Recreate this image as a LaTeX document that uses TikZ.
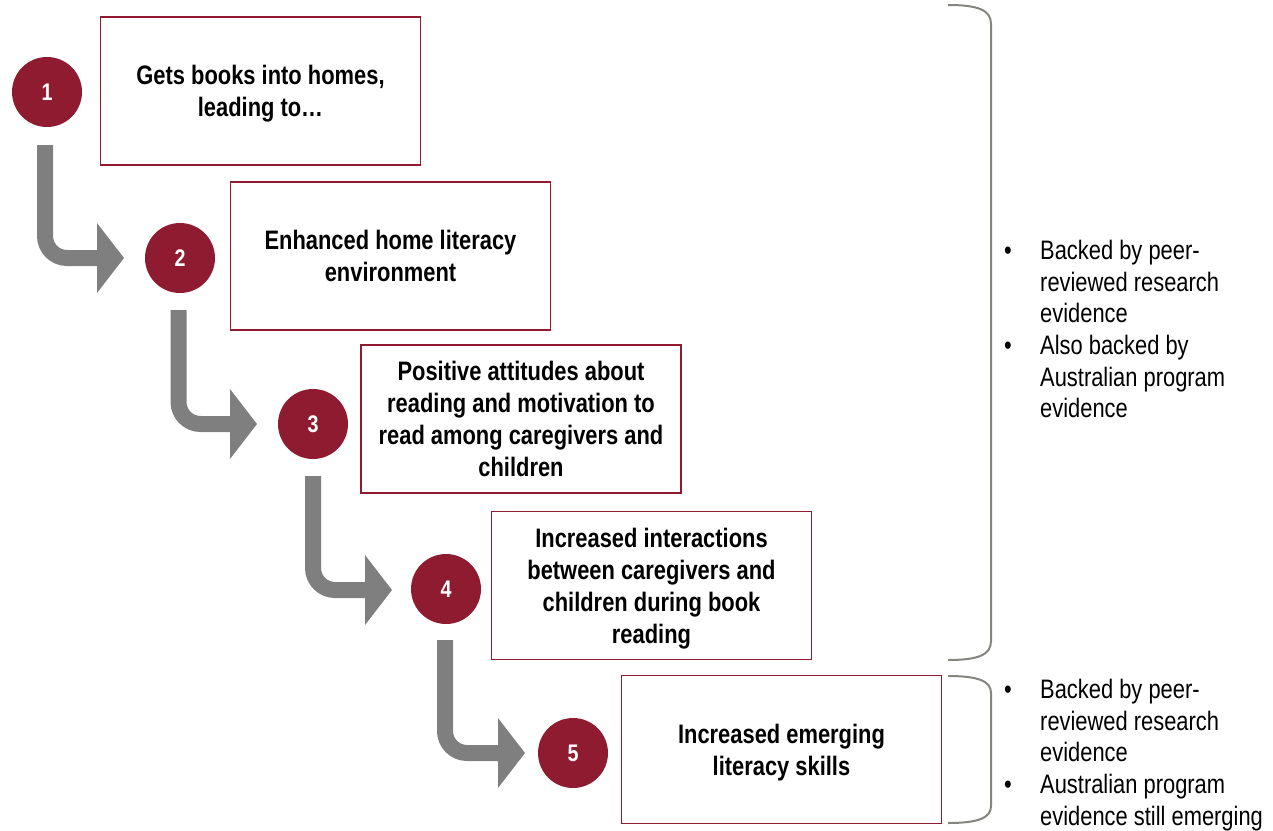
\documentclass[tikz,border=0pt]{standalone}
\usepackage{fontspec}
\setmainfont{Liberation Sans}[FakeStretch=0.82]
\usetikzlibrary{arrows.meta}
\definecolor{wine}{HTML}{8E1B30}
\definecolor{arrowgray}{HTML}{7F7F7F}
\definecolor{bracegray}{HTML}{85857F}
\tikzset{
  stepbox/.style={draw=wine, line width=1.5pt, fill=white, minimum width=320pt, minimum height=148pt,
    align=center, inner sep=0pt, text depth=0pt, font=\fontsize{26.7}{32}\selectfont\bfseries,
    execute at begin node=\rule{0pt}{23pt}},
  numcircle/.style={circle, fill=wine, minimum size=70pt, inner sep=0pt, text=white,
    font=\fontsize{24}{28}\selectfont\bfseries},
  blockarrow/.style={draw=arrowgray, line width=16pt, rounded corners=22pt,
    -{Triangle[length=27pt,width=70pt,line width=0pt]}},
  bracket/.style={draw=bracegray, line width=2pt},
  bullettext/.style={anchor=base west, align=left, inner sep=0pt, font=\fontsize{26.7}{31.5}\selectfont},
  bulletdot/.style={anchor=base west, inner sep=0pt, font=\fontsize{26.7}{32}\selectfont}
}
\begin{document}
\begin{tikzpicture}[x=1pt, y=-1pt]
\useasboundingbox (0,0) rectangle (1273,830);

% boxes
\node[stepbox] (b1) at (260.5,91) {Gets books into homes,\\leading to…};
\node[stepbox] (b2) at (390.5,256) {Enhanced home literacy\\environment};
\node[stepbox] (b3) at (521,419) {Positive attitudes about\\reading and motivation to\\read among caregivers and\\children};
\node[stepbox] (b4) at (651.5,585.5) {Increased interactions\\between caregivers and\\children during book\\reading};
\node[stepbox] (b5) at (781.5,749.5) {Increased emerging\\literacy skills};

% circles
\node[numcircle] (c1) at (47,92) {1};
\node[numcircle] (c2) at (180,258) {2};
\node[numcircle] (c3) at (313,424) {3};
\node[numcircle] (c4) at (446,589) {4};
\node[numcircle] (c5) at (573,753) {5};

% arrows
\coordinate (s1) at (45,145);   \coordinate (t1) at (124,258);
\coordinate (s2) at (178.5,310); \coordinate (t2) at (257,424);
\coordinate (s3) at (313,476);  \coordinate (t3) at (392,590);
\coordinate (s4) at (445,640);  \coordinate (t4) at (525,753);
\draw[blockarrow] (s1) |- (t1);
\draw[blockarrow] (s2) |- (t2);
\draw[blockarrow] (s3) |- (t3);
\draw[blockarrow] (s4) |- (t4);

% brackets
\coordinate (k1a) at (948,5);   \coordinate (k1b) at (948,660);
\coordinate (k2a) at (948,676); \coordinate (k2b) at (948,823);
\draw[bracket] (k1a) .. controls (978,5) and (991,10) .. (991,24)
  -- (991,641) .. controls (991,655) and (978,660) .. (k1b);
\draw[bracket] (k2a) .. controls (978,676) and (991,681) .. (991,693)
  -- (991,806) .. controls (991,818) and (978,823) .. (k2b);

% bullet texts (node base = baseline of last line)
\node[bulletdot] (d1) at (1004,259.5) {•};
\node[bullettext] (e1) at (1040,322.5) {Backed by peer-\\reviewed research\\evidence};
\node[bulletdot] (d2) at (1004,354.5) {•};
\node[bullettext] (e2) at (1040,417.5) {Also backed by\\Australian program\\evidence};
\node[bulletdot] (d3) at (1004,698.5) {•};
\node[bullettext] (e3) at (1040,761.5) {Backed by peer-\\reviewed research\\evidence};
\node[bulletdot] (d4) at (1004,793.5) {•};
\node[bullettext] (e4) at (1040,825) {Australian program\\evidence still emerging};
\end{tikzpicture}
\end{document}
